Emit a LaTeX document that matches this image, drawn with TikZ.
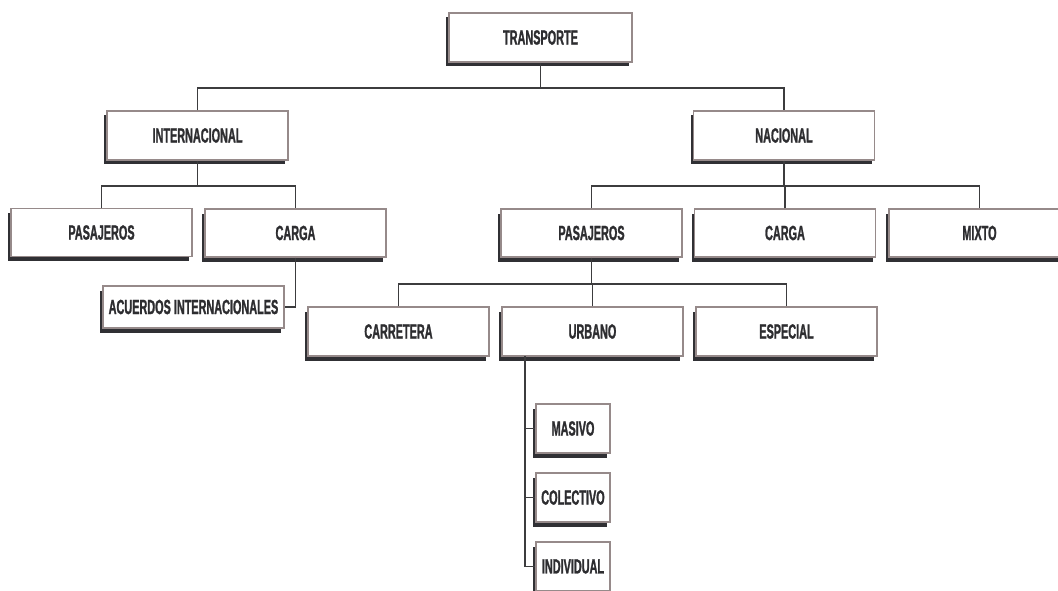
\documentclass[tikz,border=0pt]{standalone}
\usepackage{fontspec}
\newfontfamily\condsans[FakeStretch=0.53, BoldFeatures={FakeBold=1.2}]{Liberation Sans}
\usetikzlibrary{shadows}
\definecolor{boxline}{RGB}{150,138,138}
\definecolor{shade}{RGB}{48,48,52}
\definecolor{wire}{RGB}{60,60,62}
\definecolor{ink}{RGB}{45,45,48}
\tikzset{
  unit/.style={draw=boxline, line width=1.2pt, fill=white,
    minimum width=181pt, minimum height=49pt, inner sep=0pt,
    font=\condsans\bfseries\fontsize{20.5}{21}\selectfont, text=ink,
    drop shadow={shadow xshift=-3pt, shadow yshift=-4.5pt, opacity=1, fill=shade}},
  small/.style={unit, minimum width=74pt},
  wire/.style={draw=wire, line width=1.4pt}
}
\begin{document}
\begin{tikzpicture}[x=1pt, y=-1pt]
\useasboundingbox (0,0) rectangle (1058,591);
\clip (0,0) rectangle (1058,591);
\fill[white] (0,0) rectangle (1058,591);

% horizontal bus levels
\coordinate (busA) at (0,88);
\coordinate (busB) at (0,186);
\coordinate (busC) at (0,284);

\node[unit, minimum width=183pt] (T) at (540.5,37.5) {TRANSPORTE};
\node[unit] (I) at (197.5,135.5) {INTERNACIONAL};
\node[unit] (N) at (784,135.5) {NACIONAL};

\node[unit, minimum height=48pt] (IP) at (101.5,232.5) {PASAJEROS};
\node[unit, minimum height=48pt] (IC) at (295.5,233) {CARGA};
\node[unit, minimum height=48pt] (NP) at (591.5,233) {PASAJEROS};
\node[unit, minimum height=48pt] (NC) at (785,233) {CARGA};
\node[unit, minimum height=48pt] (NM) at (979.5,233) {MIXTO};

\node[unit, minimum height=42pt] (AI) at (193.5,307) {ACUERDOS INTERNACIONALES};

\node[unit] (CR) at (398.5,331.5) {CARRETERA};
\node[unit] (UR) at (592.5,331.5) {URBANO};
\node[unit] (ES) at (786.5,331.5) {ESPECIAL};

\node[small] (MA) at (573,428.5) {MASIVO};
\node[small] (CO) at (573,497.5) {COLECTIVO};
\node[small] (IN) at (573,566.5) {INDIVIDUAL};

% level 1
\draw[wire] (T.south) -- (T.south |- busA);
\draw[wire] (I.north) -- (I.north |- busA) -| (N.north);
% international
\draw[wire] (I.south) -- (I.south |- busB);
\draw[wire] (IP.north) -- (IP.north |- busB) -| (IC.north);
\draw[wire] (IC.south) |- (AI.east);
% national
\draw[wire] (N.south) -- (N.south |- busB);
\draw[wire] (NP.north) -- (NP.north |- busB) -| (NM.north);
\draw[wire] (NC.north) -- (NC.north |- busB);
% passengers
\draw[wire] (NP.south) -- (NP.south |- busC);
\draw[wire] (CR.north) -- (CR.north |- busC) -| (ES.north);
\draw[wire] (UR.north) -- (UR.north |- busC);
% urban
\coordinate (trunk) at (525,356);
\draw[wire] (trunk) |- (IN.west);
\draw[wire] (trunk |- MA.west) -- (MA.west);
\draw[wire] (trunk |- CO.west) -- (CO.west);
\end{tikzpicture}
\end{document}
